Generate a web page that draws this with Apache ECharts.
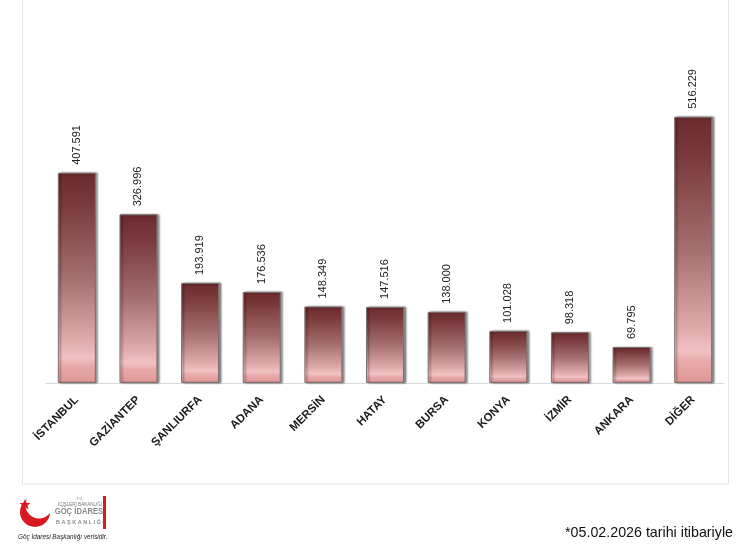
<!DOCTYPE html>
<html>
<head>
<meta charset="utf-8">
<script src="https://cdn.jsdelivr.net/npm/echarts@6/dist/echarts.min.js"></script>
<style>
html,body{margin:0;padding:0;background:#fff;}
#c{width:750px;height:549px;}
</style>
</head>
<body>
<div id="c"></div>
<script>
const categories = ['İSTANBUL','GAZİANTEP','ŞANLIURFA','ADANA','MERSİN','HATAY','BURSA','KONYA','İZMİR','ANKARA','DİĞER'];
const values = [407591, 326996, 193919, 176536, 148349, 147516, 138000, 101028, 98318, 69795, 516229];
const footnote = '*05.02.2026 tarihi itibariyle';
const sourceText = 'Göç İdaresi Başkanlığı verisidir.';

function fmt(v){ return String(v).replace(/\B(?=(\d{3})+(?!\d))/g,'.'); }

const chart = echarts.init(document.getElementById('c'), null, {renderer:'canvas'});
chart.setOption({
  animation:false,
  backgroundColor:'#fff',
  grid:{left:46, right:26, top:22, bottom:166, containLabel:false},
  xAxis:{
    type:'category', data:categories,
    axisLine:{show:true, lineStyle:{color:'#d9d9d9', width:1}},
    axisTick:{show:false},
    axisLabel:{rotate:45, margin:15, interval:0, fontFamily:'Liberation Sans, Arial, sans-serif', fontWeight:'bold', fontSize:11.5, color:'#1a1a1a'}
  },
  yAxis:{type:'value', min:0, max:700000, show:false, splitLine:{show:false}},
  series:[{
    type:'bar', data:values, barWidth:38,
    itemStyle:{
      color:new echarts.graphic.LinearGradient(0,0,0,1,[
        {offset:0, color:'#6b2a2b'},
        {offset:0.15, color:'#7a3a3b'},
        {offset:0.5, color:'#a56f6f'},
        {offset:0.8, color:'#e0abab'},
        {offset:0.88, color:'#f1c2c2'},
        {offset:0.92, color:'#e9a9a9'},
        {offset:1, color:'#e09797'}
      ]),
      borderColor:'#7d6f6f', borderWidth:1,
      shadowColor:'rgba(0,0,0,0.45)', shadowBlur:2, shadowOffsetX:2, shadowOffsetY:0
    },
    label:{show:true, position:'top', rotate:90, align:'left', verticalAlign:'middle', distance:8,
      fontFamily:'Liberation Sans, Arial, sans-serif', fontSize:11, color:'#222',
      formatter:p=>fmt(p.value)}
  }],
  graphic:[
    {type:'rect', shape:{x:22.5, y:-2, width:706, height:486}, style:{fill:'none', stroke:'#e3e3e3', lineWidth:1}, z:-1},
    {type:'circle', shape:{cx:35, cy:512, r:15}, style:{fill:'#d71920'}},
    {type:'circle', shape:{cx:39, cy:505, r:13.5}, style:{fill:'#fff'}},
    {type:'polygon', shape:{points:[[25,499],[26.6,503],[30.5,503],[27.4,505.5],[28.6,509.5],[25,507],[21.4,509.5],[22.6,505.5],[19.5,503],[23.4,503]]}, style:{fill:'#d71920'}},
    {type:'text', style:{x:80, y:497, text:'T.C.', fontSize:4, fill:'#777', align:'center', fontFamily:'Liberation Sans'}},
    {type:'text', style:{x:80, y:502, text:'İÇİŞLERİ BAKANLIĞI', fontSize:4.5, fill:'#777', align:'center', fontFamily:'Liberation Sans'}},
    {type:'text', style:{x:80, y:507.5, text:'GÖÇ İDARESİ', fontSize:8.5, fontWeight:'bold', fill:'#8a8a8a', align:'center', fontFamily:'Liberation Sans'}, scaleX:0.9, originX:80},
    {type:'text', style:{x:80, y:519, text:'B A Ş K A N L I Ğ I', fontSize:5.5, fontWeight:'bold', fill:'#8a8a8a', align:'center', fontFamily:'Liberation Sans'}},
    {type:'rect', shape:{x:103, y:496, width:3, height:33}, style:{fill:'#d71920'}},
    {type:'text', style:{x:18, y:533, text:sourceText, fontSize:7.5, fontStyle:'italic', fill:'#222', fontFamily:'Liberation Sans'}, scaleX:0.85, originX:18},
    {type:'text', style:{x:733, y:533, text:footnote, fontSize:15, fill:'#111', align:'right', verticalAlign:'middle', fontFamily:'Liberation Sans'}, scaleX:0.95, originX:733, originY:533}
  ]
});
</script>
</body>
</html>
